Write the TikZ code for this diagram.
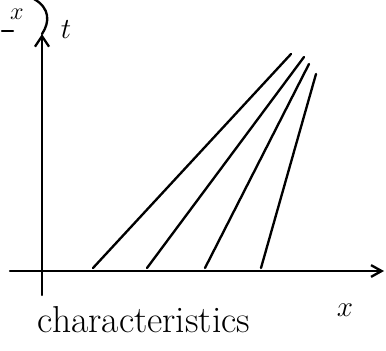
\documentclass[tikz,border=0pt]{standalone}
\usepackage{amsmath,amssymb}
\usetikzlibrary{arrows.meta}

\begin{document}
\begin{tikzpicture}[x=0.03cm,y=-0.03cm,line width=2pt,line cap=round]
  \useasboundingbox (0,0) rectangle (386,350);
  % axes
  \coordinate (xstart) at (10,271);
  \coordinate (xend) at (384,271);
  \coordinate (tstart) at (42,295);
  \coordinate (tend) at (42,34);
  \draw[-{Straight Barb[length=9pt,width=10pt]}] (xstart) -- (xend);
  \draw[-{Straight Barb[length=9pt,width=12pt]}] (tstart) -- (tend);
  \node[font=\fontsize{28}{30}\selectfont] (tlabel) at (66,30) {$t$};
  \node[font=\fontsize{28}{30}\selectfont] (xlabel) at (345,310) {$x$};
  % cut-off mark at top left
  \node[font=\fontsize{22}{24}\selectfont,inner sep=1pt] (xcut) at (17,14) {$x$};
  \coordinate (dashl) at (2,31);
  \coordinate (dashr) at (13,31);
  \draw (dashl) -- (dashr);
  \draw (34,-1) .. controls (50,8) and (50,22) .. (42,34);
  % characteristics
  \foreach \xa/\xb/\yb in {93/291/54, 147/304/57, 205/309/64, 261/316/74}{
    \draw (\xa,268) -- (\xb,\yb);
  }
  \node[font=\fontsize{32}{34}\selectfont] (caption) at (144,320) {characteristics};
\end{tikzpicture}
\end{document}
